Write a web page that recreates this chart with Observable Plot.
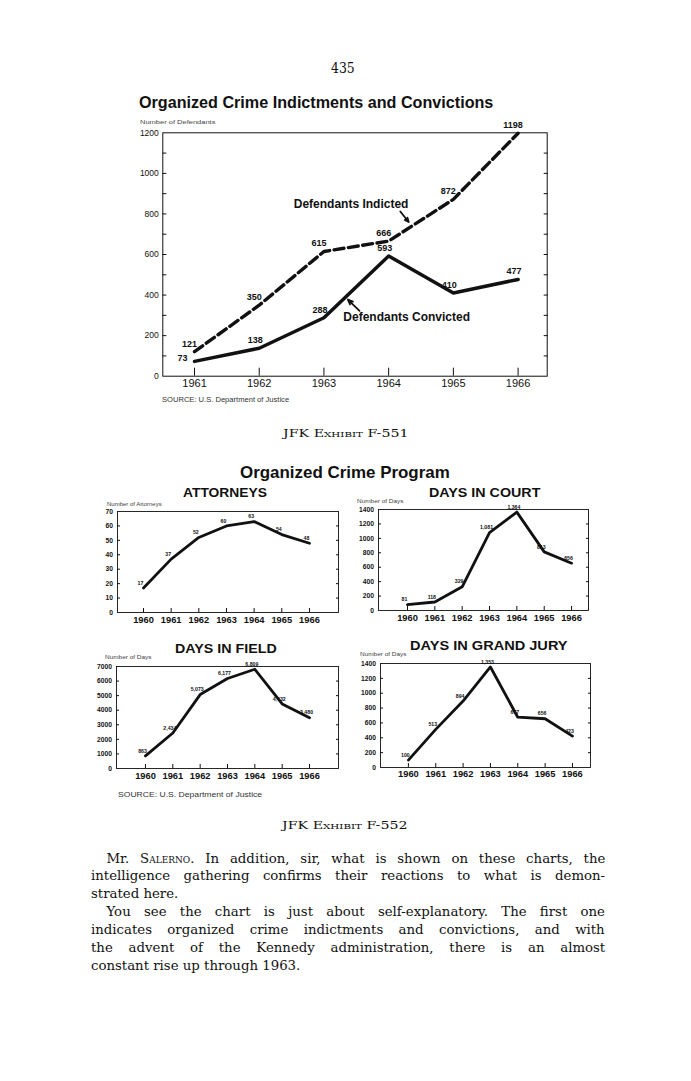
<!DOCTYPE html>
<html><head><meta charset="utf-8">
<script src="https://cdn.jsdelivr.net/npm/d3@7"></script>
<script src="https://cdn.jsdelivr.net/npm/@observablehq/plot@0.6"></script>
<style>
html,body{margin:0;padding:0;background:#fff;}
#page{position:relative;width:691px;height:1081px;overflow:hidden;background:#fff;color:#111;}
.t{position:absolute;white-space:nowrap;line-height:1;transform-origin:0 50%;}
.c{position:absolute;}
.c svg{overflow:visible;}
</style></head><body><div id="page"></div>
<script>
// ---------- data ----------
const years1 = [1961, 1962, 1963, 1964, 1965, 1966];
const indicted = [121, 350, 615, 666, 872, 1198];
const convicted = [73, 138, 288, 593, 410, 477];
const ticks1 = [0, 200, 400, 600, 800, 1000, 1200];
const minor1 = [100, 200, 300, 400, 500, 600, 700, 800, 900, 1000, 1100];

const yearsSmall = [1960, 1961, 1962, 1963, 1964, 1965, 1966];
const attorneys = [17, 37, 52, 60, 63, 54, 48];
const attorneyLabels = ["17", "37", "52", "60", "63", "54", "48"];
const daysCourt = [81, 118, 329, 1081, 1364, 813, 656];
const courtLabels = ["81", "118", "329", "1,081", "1,364", "813", "656"];
const daysField = [863, 2434, 5073, 6177, 6809, 4432, 3480];
const fieldLabels = ["863", "2,434", "5,073", "6,177", "6,809", "4,432", "3,480"];
const daysJury = [100, 513, 894, 1353, 677, 656, 423];
const juryLabels = ["100", "513", "894", "1,353", "677", "656", "423"];
const ticksAtt = [0, 10, 20, 30, 40, 50, 60, 70];
const ticksDays = [0, 200, 400, 600, 800, 1000, 1200, 1400];
const ticksField = [0, 1000, 2000, 3000, 4000, 5000, 6000, 7000];

const annotations1 = [
  {label: "Defendants Indicted", x: 1963.42, y: 846, ax1: 1964.18, ay1: 812, ax2: 1964.31, ay2: 760, anchor: "middle"},
  {label: "Defendants Convicted", x: 1963.30, y: 291, ax1: 1963.55, ay1: 322, ax2: 1963.37, ay2: 378, anchor: "start"}
];

const paragraph = [
  {html: 'Mr. <span style="font-variant:small-caps">Salerno</span>. In addition, sir, what is shown on these charts, the', indent: true, justify: true},
  {html: 'intelligence gathering confirms their reactions to what is demon-', indent: false, justify: true},
  {html: 'strated here.', indent: false, justify: false},
  {html: 'You see the chart is just about self-explanatory. The first one', indent: true, justify: true},
  {html: 'indicates organized crime indictments and convictions, and with', indent: false, justify: true},
  {html: 'the advent of the Kennedy administration, there is an almost', indent: false, justify: true},
  {html: 'constant rise up through 1963.', indent: false, justify: false}
];

// ---------- helpers ----------
const INK = "#111";
const SANS = "'Liberation Sans', Arial, Helvetica, sans-serif";
const SERIF = "'DejaVu Serif', 'Liberation Serif', serif";
const page = document.getElementById("page");

function txt(s, o) {
  const el = document.createElement("div");
  el.className = "t";
  el.innerHTML = s;
  el.style.fontFamily = o.family || SANS;
  el.style.fontSize = o.size + "px";
  el.style.fontWeight = o.weight || "normal";
  if (o.color) el.style.color = o.color;
  page.appendChild(el);
  const w = el.offsetWidth, h = el.offsetHeight;
  const sx = o.width ? o.width / w : 1;
  const drawn = w * sx;
  const left = o.anchor === "middle" ? o.x - drawn / 2 : o.anchor === "end" ? o.x - drawn : o.x;
  el.style.left = left + "px";
  el.style.top = (o.y - h / 2) + "px";
  el.style.transform = `scaleX(${sx})`;
  return el;
}

function place(svg, left, top) {
  const d = document.createElement("div");
  d.className = "c";
  d.style.left = left + "px";
  d.style.top = top + "px";
  d.appendChild(svg);
  page.appendChild(d);
}

// ---------- page text ----------
txt("435", {x: 343, y: 68, anchor: "middle", size: 14.5, family: SERIF, width: 24});
txt("Organized Crime Indictments and Convictions", {x: 139, y: 102, size: 16.3, weight: "bold", width: 354});
txt("Number of Defendants", {x: 140, y: 122, size: 6, width: 75, color: "#444"});
txt("SOURCE: U.S. Department of Justice", {x: 162, y: 400, size: 6.5, width: 127, color: "#333"});
txt('JFK <span style="font-variant:small-caps">Exhibit</span> F-551', {x: 345, y: 433, anchor: "middle", size: 11, family: SERIF, width: 125});
txt("Organized Crime Program", {x: 345, y: 472, anchor: "middle", size: 16.3, weight: "bold", width: 210});
txt("ATTORNEYS", {x: 225, y: 493, anchor: "middle", size: 12.5, weight: "bold", width: 84});
txt("DAYS IN COURT", {x: 484.5, y: 492, anchor: "middle", size: 13, weight: "bold", width: 111});
txt("Number of Attorneys", {x: 107, y: 505, size: 4.8, width: 55, color: "#444"});
txt("Number of Days", {x: 357, y: 502, size: 4.8, width: 47, color: "#444"});
txt("DAYS IN FIELD", {x: 226, y: 648, anchor: "middle", size: 13, weight: "bold", width: 102});
txt("DAYS IN GRAND JURY", {x: 489, y: 645, anchor: "middle", size: 13, weight: "bold", width: 158});
txt("Number of Days", {x: 105, y: 658, size: 4.8, width: 47, color: "#444"});
txt("Number of Days", {x: 360, y: 655, size: 4.8, width: 47, color: "#444"});
txt("SOURCE: U.S. Department of Justice", {x: 118, y: 795, size: 6.5, width: 144, color: "#333"});
txt('JFK <span style="font-variant:small-caps">Exhibit</span> F-552', {x: 344.5, y: 825, anchor: "middle", size: 11, family: SERIF, width: 125});

// paragraph
const PL = 91, PR = 605, PIND = 15.5, PTOP = 858, PLH = 17.95;
paragraph.forEach((line, i) => {
  const el = document.createElement("div");
  el.className = "t";
  el.innerHTML = line.html;
  el.style.fontFamily = SERIF;
  el.style.fontSize = "13.3px";
  page.appendChild(el);
  const x0 = PL + (line.indent ? PIND : 0);
  if (line.justify) {
    const n = (el.textContent.match(/ /g) || []).length;
    const w = el.offsetWidth;
    el.style.wordSpacing = ((PR - x0 - w) / n) + "px";
  }
  el.style.left = x0 + "px";
  el.style.top = (PTOP + i * PLH - el.offsetHeight / 2) + "px";
});

// ---------- chart 1 ----------
const rows1 = years1.map((y, i) => ({year: y, indicted: indicted[i], convicted: convicted[i]}));
const chart1 = Plot.plot({
  width: 460, height: 300,
  marginLeft: 62.3, marginRight: 13.3, marginTop: 17.3, marginBottom: 39.3,
  x: {domain: [1960.51, 1966.45]},
  y: {domain: [0, 1200]},
  style: {fontFamily: SANS, background: "transparent", color: INK},
  marks: [
    Plot.frame({stroke: INK, strokeWidth: 1}),
    Plot.axisY({ticks: ticks1, tickSize: 0, tickPadding: 4, fontSize: 8.5, tickFormat: d => String(d), label: null}),
    Plot.axisY({ticks: minor1, tickSize: -4, tickFormat: () => "", label: null}),
    Plot.axisY({anchor: "right", ticks: minor1, tickSize: -4, tickFormat: () => "", label: null}),
    Plot.axisX({ticks: years1, tickSize: 0, tickPadding: 3, fontSize: 11, tickFormat: d => String(d), label: null}),
    Plot.axisX({ticks: years1, tickSize: -8, tickFormat: () => "", label: null}),
    Plot.line(rows1, {x: "year", y: "indicted", stroke: INK, strokeWidth: 3.4, strokeDasharray: "10,4.5"}),
    Plot.line(rows1, {x: "year", y: "convicted", stroke: INK, strokeWidth: 3.5}),
    Plot.text(rows1, {x: "year", y: "indicted", text: d => String(d.indicted), dx: -5, dy: -8, fontSize: 9, fontWeight: "bold"}),
    Plot.text(rows1.filter(d => d.year !== years1[0]), {x: "year", y: "convicted", text: d => String(d.convicted), dx: -4, dy: -8, fontSize: 9, fontWeight: "bold"}),
    Plot.text(rows1.filter(d => d.year === years1[0]), {x: "year", y: "convicted", text: d => String(d.convicted), dx: -12, dy: -3, fontSize: 9, fontWeight: "bold"}),
    Plot.text(annotations1.filter(d => d.anchor === "middle"), {x: "x", y: "y", text: "label", fontSize: 12, fontWeight: "bold", textAnchor: "middle"}),
    Plot.text(annotations1.filter(d => d.anchor === "start"), {x: "x", y: "y", text: "label", fontSize: 12, fontWeight: "bold", textAnchor: "start"}),
    Plot.arrow(annotations1, {x1: "ax1", y1: "ay1", x2: "ax2", y2: "ay2", stroke: INK, strokeWidth: 1.8, headLength: 7, headAngle: 45})
  ]
});
place(chart1, 100, 115);

// ---------- small charts ----------
function small(cfg) {
  const rows = yearsSmall.map((y, i) => ({year: y, v: cfg.values[i], lab: cfg.labels[i]}));
  return Plot.plot({
    width: cfg.width, height: cfg.height,
    marginLeft: cfg.mL, marginRight: cfg.mR, marginTop: cfg.mT, marginBottom: cfg.mB,
    x: {domain: cfg.xDom},
    y: {domain: [0, cfg.ticks[cfg.ticks.length - 1]]},
    style: {fontFamily: SANS, background: "transparent", color: INK},
    marks: [
      Plot.frame({stroke: INK, strokeWidth: 0.9}),
      Plot.axisY({ticks: cfg.ticks, tickSize: 0, tickPadding: 4.5, fontSize: 6.7, fontWeight: "bold", tickFormat: d => String(d), label: null}),
      Plot.axisY({ticks: cfg.ticks.slice(1, -1), tickSize: -3, tickFormat: () => "", label: null}),
      Plot.axisY({anchor: "right", ticks: cfg.ticks.slice(1, -1), tickSize: -3, tickFormat: () => "", label: null}),
      Plot.axisX({ticks: yearsSmall, tickSize: 0, tickPadding: cfg.pad, fontSize: 9.3, fontWeight: "bold", tickFormat: d => String(d), label: null}),
      Plot.axisX({ticks: yearsSmall, tickSize: -4, tickFormat: () => "", label: null}),
      Plot.line(rows, {x: "year", y: "v", stroke: INK, strokeWidth: 2.8}),
      Plot.text(rows, {x: "year", y: "v", text: "lab", dx: -3, dy: -5, fontSize: 5.2, fontWeight: "bold"})
    ]
  });
}

place(small({width: 255, height: 135, mL: 27, mR: 7, mT: 11, mB: 23, pad: 4, xDom: [1959.06, 1967.05], ticks: ticksAtt, values: attorneys, labels: attorneyLabels}), 90, 500);
place(small({width: 250, height: 135, mL: 33, mR: 7, mT: 9, mB: 25, pad: 4, xDom: [1958.94, 1966.62], ticks: ticksDays, values: daysCourt, labels: courtLabels}), 345, 500);
place(small({width: 255, height: 135, mL: 26, mR: 7, mT: 11, mB: 22, pad: 3.5, xDom: [1958.94, 1967.06], ticks: ticksField, values: daysField, labels: fieldLabels}), 90, 655);
place(small({width: 250, height: 135, mL: 35, mR: 5, mT: 8, mB: 23, pad: 3, xDom: [1958.98, 1966.66], ticks: ticksDays, values: daysJury, labels: juryLabels}), 345, 655);
</script>
</body></html>
